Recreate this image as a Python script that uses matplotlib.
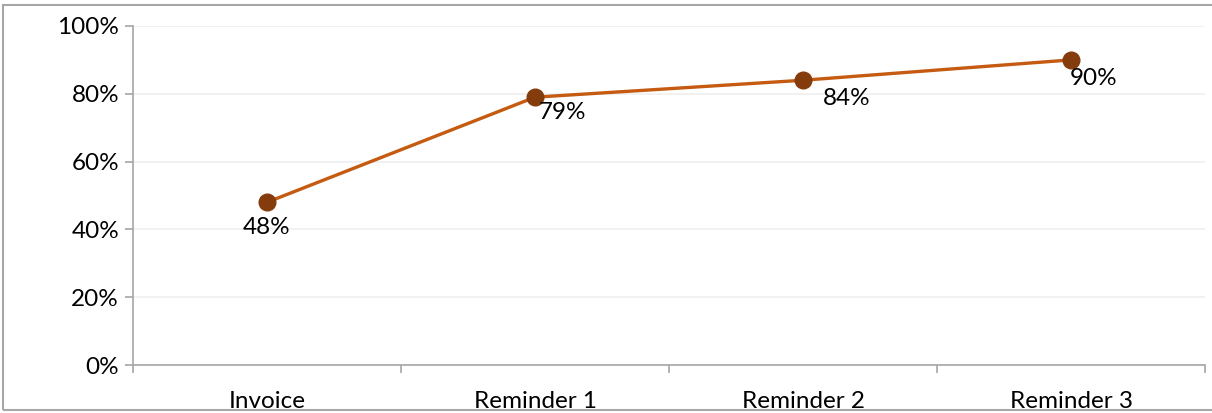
import matplotlib.pyplot as plt
from matplotlib.patches import Rectangle
from matplotlib.ticker import FuncFormatter

categories = ["Invoice", "Reminder 1", "Reminder 2", "Reminder 3"]
rates = [48, 79, 84, 90]

plt.rcParams['font.family'] = ['Lato', 'DejaVu Sans']

fig = plt.figure(figsize=(12.12, 4.13), dpi=100)
W, H = 1212, 413
ax = fig.add_axes([133 / W, 1 - 365 / H, (1205 - 133) / W, (365 - 26) / H])

# outer chart border
fig.patches.append(Rectangle((3 / W, 3 / H), 1.2, (410 - 5) / H, transform=fig.transFigure,
                             fill=False, edgecolor="#a6a6a6", linewidth=1.5))

x = list(range(len(categories)))
ax.plot(x, rates, color="#c55a11", linewidth=2.4, marker="o", markersize=12,
        markerfacecolor="#843c0c", markeredgecolor="#843c0c", zorder=3)

offsets = [(0, -25), (28, -15), (44, -18), (23, -19)]
for xi, v, off in zip(x, rates, offsets):
    ax.annotate(f"{v}%", (xi, v), xytext=off, textcoords="offset pixels",
                ha="center", va="center", fontsize=17.5, color="black")

ax.set_xlim(-0.5, len(categories) - 0.5)
ax.set_ylim(0, 100)
ax.set_yticks(range(0, 101, 20))
ax.yaxis.set_major_formatter(FuncFormatter(lambda v, p: f"{v:.0f}%"))
ax.set_xticks(x)
ax.set_xticklabels(categories)
ax.set_xticks([i - 0.5 for i in range(len(categories) + 1)], minor=True)
ax.tick_params(axis="x", which="major", length=0, pad=19, labelsize=17.5)
ax.tick_params(axis="x", which="minor", length=6, color="#a6a6a6", width=1.2)
ax.tick_params(axis="y", length=6, color="#a6a6a6", width=1.2, pad=4, labelsize=17.5)

ax.grid(axis="y", color="#efefef", linewidth=1.2)
ax.set_axisbelow(True)
for s in ["top", "right"]:
    ax.spines[s].set_visible(False)
for s in ["left", "bottom"]:
    ax.spines[s].set_color("#a6a6a6")
    ax.spines[s].set_linewidth(1.2)

fig.savefig("out.png", dpi=100)
